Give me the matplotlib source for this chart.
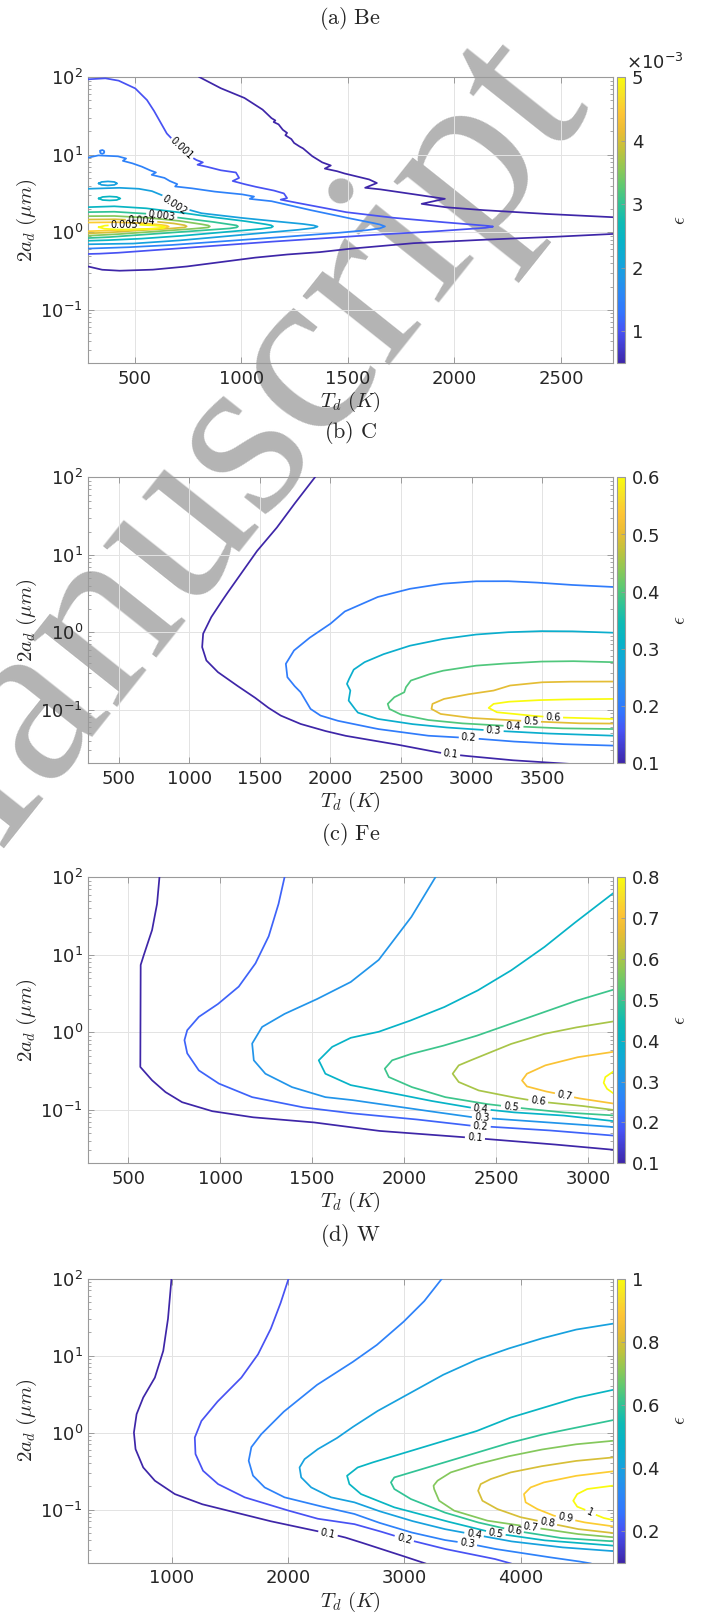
import numpy as np
import matplotlib
matplotlib.use("Agg")
import matplotlib.pyplot as plt
from matplotlib.colors import LinearSegmentedColormap, Normalize
from matplotlib.cm import ScalarMappable

# ---------------------------------------------------------------- data
# every contour is a list of temperatures T (K) and log10 of the grain
# diameter 2a (um)

# (a) Be, levels 0.0005 ... 0.005
be_05_top_T = [803, 900, 1015, 1100, 1142, 1160, 1152, 1175, 1195, 1215, 1207, 1235, 1248, 1270, 1290,
               1333, 1380, 1420, 1392, 1445, 1480, 1540, 1600, 1636, 1581, 1643, 1760, 1877, 1955, 1846,
               1955, 2111, 2400, 2742]
be_05_top_lg = [2.0, 1.86, 1.73, 1.58, 1.47, 1.44, 1.42, 1.39, 1.32, 1.28, 1.25, 1.2, 1.15, 1.11, 1.08,
                0.98, 0.90, 0.86, 0.82, 0.79, 0.76, 0.72, 0.68, 0.634, 0.573, 0.556, 0.51, 0.461, 0.431, 0.366,
                0.323, 0.289, 0.24, 0.194]
be_05_bot_T = [280, 348, 425, 581, 736, 892, 1047, 1203, 1358, 1500, 1799, 2111, 2422, 2742]
be_05_bot_lg = [-0.44, -0.483, -0.496, -0.483, -0.444, -0.388, -0.332, -0.289, -0.259, -0.215, -0.142,
                -0.099, -0.065, -0.022]
be_10_T = [280, 363, 425, 503, 558, 589, 620, 651, 690, 721, 760, 790, 820, 795, 830, 900, 975, 990, 960,
           1000, 1060, 1150, 1200, 1215, 1185, 1240, 1354, 1488, 1700, 1900, 2080, 2150, 2181, 2150, 2080,
           1900, 1700, 1488, 1200, 900, 650, 450, 350, 280]
be_10_lg = [1.97, 1.983, 1.953, 1.853, 1.703, 1.573, 1.422, 1.272, 1.16, 1.078, 0.98, 0.93, 0.90, 0.87,
            0.85, 0.80, 0.77, 0.70, 0.66, 0.63, 0.59, 0.54, 0.50, 0.44, 0.42, 0.39, 0.332, 0.26, 0.19, 0.14,
            0.10, 0.085, 0.073, 0.058, 0.045, 0.01, -0.02, -0.06, -0.11, -0.17, -0.22, -0.26, -0.275, -0.28]
be_15_T = [280, 330, 422, 460, 445, 485, 530, 570, 600, 580, 640, 665, 700, 690, 761, 867, 1000, 1060,
           1040, 1142, 1300, 1488, 1600, 1650, 1674, 1650, 1600, 1488, 1300, 1000, 700, 500, 350, 280]
be_15_lg = [0.96, 0.99, 0.978, 0.95, 0.92, 0.892, 0.85, 0.80, 0.77, 0.74, 0.70, 0.66, 0.62, 0.59, 0.569,
            0.526, 0.49, 0.46, 0.43, 0.40, 0.30, 0.19, 0.13, 0.10, 0.075, 0.05, 0.03, 0.0, -0.04, -0.10,
            -0.16, -0.19, -0.205, -0.21]
be_15_dot_T = [340, 348, 356, 358, 356, 348, 340, 338, 340]
be_15_dot_lg = [1.05, 1.06, 1.05, 1.034, 1.02, 1.01, 1.02, 1.034, 1.05]
be_20_T = [280, 425, 520, 581, 643, 700, 814, 970, 1125, 1281, 1340, 1358, 1340, 1281, 1047, 736, 503, 280]
be_20_lg = [0.56, 0.573, 0.56, 0.53, 0.46, 0.33, 0.245, 0.194, 0.15, 0.11, 0.088, 0.073, 0.055, 0.035,
            -0.022, -0.10, -0.145, -0.155]
be_20_isl_T = [332, 345, 375, 405, 418, 405, 375, 345, 332]
be_20_isl_lg = [0.629, 0.648, 0.655, 0.648, 0.629, 0.61, 0.603, 0.61, 0.629]
be_25_T = [280, 400, 550, 700, 850, 1000, 1100, 1140, 1149, 1140, 1100, 950, 750, 550, 400, 280]
be_25_lg = [0.323, 0.335, 0.31, 0.26, 0.20, 0.15, 0.11, 0.09, 0.075, 0.06, 0.045, 0.01, -0.04, -0.08,
            -0.10, -0.11]
be_25_isl_T = [332, 350, 383, 416, 433, 416, 383, 350, 332]
be_25_isl_lg = [0.435, 0.455, 0.461, 0.455, 0.435, 0.415, 0.41, 0.415, 0.435]
be_30_T = [280, 400, 550, 700, 850, 950, 978, 985, 978, 950, 800, 600, 400, 280]
be_30_lg = [0.259, 0.265, 0.24, 0.19, 0.14, 0.10, 0.088, 0.075, 0.062, 0.05, 0.02, -0.02, -0.06, -0.075]
be_35_T = [280, 400, 550, 700, 800, 845, 853, 845, 800, 650, 450, 280]
be_35_lg = [0.207, 0.21, 0.19, 0.15, 0.11, 0.088, 0.075, 0.062, 0.05, 0.02, -0.02, -0.045]
be_40_T = [280, 400, 550, 680, 735, 744, 735, 680, 550, 400, 280]
be_40_lg = [0.164, 0.168, 0.15, 0.115, 0.09, 0.076, 0.063, 0.05, 0.03, 0.0, -0.015]
be_45_T = [280, 400, 520, 610, 650, 660, 650, 610, 500, 380, 280]
be_45_lg = [0.125, 0.13, 0.12, 0.10, 0.085, 0.073, 0.062, 0.05, 0.035, 0.022, 0.013]
be_50_T = [332, 360, 420, 500, 580, 630, 643, 630, 580, 500, 420, 360, 332]
be_50_lg = [0.065, 0.085, 0.097, 0.099, 0.09, 0.077, 0.065, 0.052, 0.042, 0.035, 0.035, 0.045, 0.065]
be_label_pos = {"0.001": (721, 1.078), "0.002": (690, 0.35), "0.003": (628, 0.226),
                "0.004": (534, 0.152), "0.005": (453, 0.098)}

# (b) C, levels 0.1 ... 0.6
c_10_T = [1890, 1765, 1625, 1484, 1367, 1250, 1156, 1098, 1091, 1121, 1203, 1320, 1461, 1555, 1648, 1789,
          1953, 2102, 2453, 2758, 2852, 2945, 3273, 3730]
c_10_lg = [2.0, 1.707, 1.362, 1.06, 0.76, 0.457, 0.198, -0.017, -0.19, -0.362, -0.513, -0.664, -0.836,
           -0.966, -1.073, -1.181, -1.267, -1.332, -1.44, -1.547, -1.57, -1.59, -1.647, -1.70]
c_20_T = [4000, 3742, 3508, 3273, 3039, 2805, 2570, 2336, 2102, 2000, 1859, 1742, 1684, 1695, 1742, 1789,
          1824, 1859, 1930, 2047, 2164, 2336, 2687, 2980, 3273, 3625, 4000]
c_20_lg = [0.586, 0.608, 0.638, 0.66, 0.66, 0.63, 0.565, 0.457, 0.27, 0.112, -0.06, -0.233, -0.405,
           -0.578, -0.685, -0.772, -0.879, -0.987, -1.073, -1.138, -1.181, -1.246, -1.332, -1.362, -1.405,
           -1.44, -1.46]
c_30_T = [4000, 3742, 3508, 3273, 3039, 2805, 2570, 2383, 2242, 2165, 2137, 2117, 2141, 2129, 2164, 2195,
          2336, 2570, 2805, 3156, 3508, 4000]
c_30_lg = [-0.004, 0.013, 0.017, 0.004, -0.026, -0.082, -0.168, -0.276, -0.384, -0.48, -0.58, -0.664,
           -0.75, -0.879, -0.966, -1.035, -1.116, -1.181, -1.224, -1.267, -1.302, -1.332]
c_40_T = [4000, 3742, 3508, 3273, 3039, 2805, 2711, 2570, 2535, 2523, 2453, 2406, 2418, 2500, 2687, 2922,
          3297, 3625, 4000]
c_40_lg = [-0.384, -0.371, -0.375, -0.397, -0.427, -0.491, -0.534, -0.621, -0.707, -0.772, -0.836, -0.922,
           -0.987, -1.06, -1.129, -1.172, -1.211, -1.237, -1.246]
c_50_T = [4000, 3742, 3508, 3273, 3156, 2992, 2805, 2723, 2716, 2781, 2992, 3200, 3421, 3742, 4000]
c_50_lg = [-0.634, -0.634, -0.642, -0.685, -0.75, -0.793, -0.858, -0.922, -0.987, -1.052, -1.103, -1.125,
           -1.147, -1.172, -1.176]
c_60_T = [4000, 3742, 3508, 3273, 3156, 3121, 3180, 3414, 3578, 3800, 4000]
c_60_lg = [-0.858, -0.862, -0.871, -0.892, -0.922, -0.974, -1.03, -1.073, -1.095, -1.106, -1.116]
c_label_pos = {"0.1": (2852, -1.57), "0.2": (2980, -1.362), "0.3": (3156, -1.267),
               "0.4": (3297, -1.211), "0.5": (3421, -1.147), "0.6": (3578, -1.095)}

# (c) Fe, levels 0.1 ... 0.8
fe_10_T = [670, 658, 630, 594, 568, 566, 630, 703, 793, 957, 1174, 1500, 1700, 1862, 2315, 2768, 3134]
fe_10_lg = [2.0, 1.67, 1.32, 1.065, 0.87, -0.446, -0.618, -0.77, -0.90, -1.016, -1.094, -1.158, -1.22,
            -1.27, -1.35, -1.435, -1.513]
fe_20_T = [1350, 1319, 1264, 1192, 1101, 993, 884, 821, 806, 821, 884, 993, 1174, 1446, 1700, 2043, 2351,
           2768, 3134]
fe_20_lg = [2.0, 1.67, 1.24, 0.89, 0.59, 0.374, 0.2, 0.028, -0.1, -0.27, -0.49, -0.66, -0.835, -0.965,
            -1.04, -1.116, -1.2, -1.26, -1.33]
fe_30_T = [2170, 2043, 1862, 1710, 1536, 1355, 1228, 1174, 1183, 1246, 1391, 1572, 1710, 2043, 2369, 2768,
           3134]
fe_30_lg = [2.0, 1.5, 0.935, 0.65, 0.44, 0.245, 0.07, -0.144, -0.36, -0.533, -0.706, -0.835, -0.87,
            -0.985, -1.093, -1.158, -1.22]
fe_40_T = [3134, 2949, 2768, 2587, 2406, 2224, 2043, 1862, 1710, 1609, 1536, 1572, 1710, 1862, 2134, 2369,
           2587, 2858, 3134]
fe_40_lg = [1.79, 1.454, 1.11, 0.807, 0.548, 0.332, 0.16, 0.008, -0.07, -0.187, -0.36, -0.533, -0.68,
            -0.749, -0.878, -0.973, -1.03, -1.07, -1.143]
fe_50_T = [3134, 2949, 2768, 2587, 2406, 2224, 2043, 1935, 1895, 1917, 2043, 2224, 2442, 2650, 2858, 3134]
fe_50_lg = [0.548, 0.418, 0.267, 0.116, -0.035, -0.165, -0.274, -0.36, -0.468, -0.576, -0.706, -0.835,
            -0.922, -0.98, -1.031, -1.07]
fe_60_T = [3134, 2949, 2768, 2587, 2406, 2297, 2264, 2297, 2406, 2587, 2728, 2949, 3134]
fe_60_lg = [0.14, 0.07, -0.015, -0.144, -0.317, -0.425, -0.533, -0.64, -0.749, -0.835, -0.891, -0.943,
            -0.999]
fe_70_T = [3134, 2949, 2768, 2668, 2641, 2668, 2768, 2873, 2949, 3134]
fe_70_lg = [-0.252, -0.317, -0.425, -0.533, -0.62, -0.697, -0.76, -0.81, -0.85, -0.916]
fe_80_T = [3134, 3094, 3085, 3103, 3134]
fe_80_lg = [-0.51, -0.576, -0.65, -0.727, -0.78]
fe_label_pos = {"0.1": (2384, -1.36), "0.2": (2415, -1.21), "0.3": (2424, -1.10), "0.4": (2415, -0.985),
                "0.5": (2581, -0.96), "0.6": (2728, -0.891), "0.7": (2873, -0.81)}

# (d) W, levels 0.1 ... 1
w_10_T = [1000, 971, 929, 857, 757, 700, 677, 691, 757, 857, 1029, 1257, 1543, 1829, 2229, 2343, 2485,
          2571, 2900, 3180]
w_10_lg = [2.0, 1.49, 1.06, 0.713, 0.454, 0.238, 0.0, -0.216, -0.454, -0.626, -0.8, -0.929, -1.037,
           -1.145, -1.274, -1.31, -1.36, -1.40, -1.56, -1.70]
w_20_T = [2006, 1943, 1857, 1743, 1600, 1400, 1257, 1200, 1206, 1271, 1400, 1629, 1971, 2257, 2571, 2771,
          3000, 3342, 3771, 3914]
w_20_lg = [2.0, 1.706, 1.36, 1.015, 0.713, 0.41, 0.15, -0.065, -0.28, -0.497, -0.67, -0.842, -1.0, -1.12,
           -1.19, -1.274, -1.38, -1.51, -1.64, -1.70]
w_30_T = [3324, 3171, 3000, 2771, 2571, 2257, 1971, 1771, 1686, 1663, 1700, 1800, 1971, 2257, 2571, 2771,
          3056, 3342, 3542, 3771, 4199, 4485, 4600]
w_30_lg = [2.0, 1.706, 1.447, 1.145, 0.93, 0.627, 0.28, -0.022, -0.19, -0.367, -0.56, -0.713, -0.842,
           -0.95, -1.058, -1.166, -1.296, -1.395, -1.44, -1.51, -1.61, -1.67, -1.70]
w_40_T = [4790, 4485, 4199, 3914, 3628, 3342, 3056, 2771, 2571, 2429, 2257, 2143, 2100, 2114, 2200, 2371,
          2571, 2771, 3056, 3342, 3599, 3914, 4342, 4790]
w_40_lg = [1.413, 1.34, 1.23, 1.1, 0.95, 0.756, 0.518, 0.28, 0.086, -0.065, -0.216, -0.346, -0.454,
           -0.583, -0.713, -0.842, -0.907, -1.015, -1.145, -1.253, -1.325, -1.413, -1.49, -1.54]
w_50_T = [4790, 4485, 4199, 3914, 3628, 3342, 3056, 2771, 2599, 2508, 2528, 2628, 2914, 3342, 3785, 4199,
          4790]
w_50_lg = [0.553, 0.454, 0.324, 0.194, 0.022, -0.108, -0.238, -0.367, -0.454, -0.562, -0.67, -0.8, -0.972,
           -1.145, -1.31, -1.40, -1.469]
w_60_T = [4790, 4485, 4199, 3914, 3628, 3342, 3056, 2914, 2885, 2914, 3056, 3342, 3628, 3942, 4342, 4790]
w_60_lg = [0.16, 0.065, -0.022, -0.13, -0.26, -0.39, -0.52, -0.583, -0.648, -0.734, -0.864, -1.037,
           -1.166, -1.274, -1.37, -1.413]
w_70_T = [4790, 4485, 4199, 3914, 3628, 3399, 3285, 3251, 3256, 3299, 3428, 3714, 4085, 4485, 4790]
w_70_lg = [-0.108, -0.151, -0.216, -0.302, -0.41, -0.518, -0.626, -0.691, -0.734, -0.886, -1.015, -1.145,
           -1.228, -1.318, -1.36]
w_80_T = [4790, 4485, 4199, 3914, 3742, 3656, 3634, 3671, 3799, 3999, 4228, 4485, 4790]
w_80_lg = [-0.324, -0.367, -0.432, -0.518, -0.605, -0.67, -0.756, -0.886, -0.994, -1.1, -1.172, -1.253,
           -1.305]
w_90_T = [4790, 4485, 4199, 4085, 4028, 4042, 4142, 4285, 4385, 4542, 4790]
w_90_lg = [-0.505, -0.56, -0.648, -0.713, -0.8, -0.907, -0.994, -1.08, -1.113, -1.166, -1.218]
w_100_T = [4790, 4571, 4485, 4451, 4485, 4571, 4599, 4713, 4790]
w_100_lg = [-0.691, -0.734, -0.8, -0.886, -0.963, -1.015, -1.04, -1.11, -1.136]
w_label_pos = {"0.1": (2343, -1.31), "0.2": (3000, -1.38), "0.3": (3542, -1.44), "0.4": (3599, -1.325),
               "0.5": (3785, -1.31), "0.6": (3942, -1.274), "0.7": (4085, -1.228), "0.8": (4228, -1.172),
               "0.9": (4385, -1.113), "1": (4599, -1.04)}

# ---------------------------------------------------------------- style
parula = LinearSegmentedColormap.from_list("parula", [
    (0.000, (0.2422, 0.1504, 0.6603)), (0.111, (0.2810, 0.3228, 0.9579)),
    (0.175, (0.1986, 0.4578, 0.9974)), (0.238, (0.1707, 0.5300, 0.9679)),
    (0.302, (0.1196, 0.6000, 0.9000)), (0.365, (0.0641, 0.6616, 0.8370)),
    (0.429, (0.0276, 0.7027, 0.7797)), (0.492, (0.0590, 0.7314, 0.7057)),
    (0.556, (0.1910, 0.7650, 0.5850)), (0.619, (0.3692, 0.7883, 0.4451)),
    (0.683, (0.5688, 0.7821, 0.3298)), (0.746, (0.7548, 0.7635, 0.2360)),
    (0.810, (0.9194, 0.7377, 0.2026)), (0.873, (0.9956, 0.7701, 0.2100)),
    (0.937, (0.9680, 0.8800, 0.1600)), (1.000, (0.9763, 0.9831, 0.0538))])

DPI = 100
W_PX, H_PX = 709, 1617
TXT = "#262626"
EDGE = "#9a9a9a"
LBL_FS = 7

fig = plt.figure(figsize=(W_PX / DPI, H_PX / DPI), dpi=DPI, facecolor="white")


def frac_rect(left, top, right, bottom):
    return [left / W_PX, 1 - bottom / H_PX, (right - left) / W_PX, (bottom - top) / H_PX]


def draw_contour(ax, T, lg, color, labels=()):
    xy = ax.transData.transform(np.column_stack([T, 10.0 ** np.asarray(lg, float)]))
    # split every segment into ~1 px steps so the label gaps can be cut cleanly
    pts = [xy[:1]]
    for p, q in zip(xy[:-1], xy[1:]):
        n = max(int(np.ceil(np.hypot(*(q - p)))), 1)
        s = np.arange(1, n + 1)[:, None] / n
        pts.append(p + s * (q - p))
    pts = np.vstack(pts)
    keep = np.ones(len(pts), bool)
    for text, (tl, ll) in labels:
        c = ax.transData.transform((tl, 10.0 ** ll))
        i = int(np.argmin(np.hypot(*(pts - c).T)))
        j0, j1 = max(i - 6, 0), min(i + 6, len(pts) - 1)
        dx, dy = pts[j1] - pts[j0]
        ang = np.degrees(np.arctan2(dy, dx))
        if ang > 90:
            ang -= 180
        elif ang < -90:
            ang += 180
        half = LBL_FS * DPI / 72 * sum(0.318 if ch == "." else 0.636 for ch in text) / 2 + 3
        keep[max(i - int(half), 0):i + int(half) + 1] = False
        x, y = ax.transData.inverted().transform(pts[i])
        ax.text(x, y, text, fontsize=LBL_FS, rotation=ang, rotation_mode="anchor",
                ha="center", va="center", color="black", zorder=4)
    pts[~keep] = np.nan
    data = ax.transData.inverted().transform(pts)
    ax.plot(data[:, 0], data[:, 1], color=color, lw=1.25, zorder=3)


def make_panel(top, bottom, title, xmax, xticks, vmin, vmax, cticks, cfmt):
    ax = fig.add_axes(frac_rect(87.7, top, 612.7, bottom))
    ax.set_facecolor("none")
    ax.set_yscale("log")
    ax.set_xlim(280, xmax)
    ax.set_ylim(0.0205, 100)
    ax.set_xticks(xticks)
    ax.set_yticks([0.1, 1, 10, 100])
    ax.grid(True, which="major", color="#e3e3e3", lw=0.7, zorder=0)
    ax.tick_params(which="both", direction="in", top=True, right=True, colors=EDGE,
                   labelcolor=TXT, labelsize=13)
    ax.tick_params(which="major", length=4, width=0.7)
    ax.tick_params(which="minor", length=2.2, width=0.6)
    ax.tick_params(axis="x", pad=5)
    for s in ax.spines.values():
        s.set_edgecolor(EDGE)
        s.set_linewidth(0.8)
    h = bottom - top
    ax.set_xlabel(r"$T_d\ (K)$", fontsize=15, color=TXT, math_fontfamily="cm")
    ax.xaxis.set_label_coords(0.5, -39 / h)
    ax.xaxis.label.set_va("center")
    ax.set_ylabel(r"$2a_d\ (\mu m)$", fontsize=15, color=TXT, math_fontfamily="cm")
    ax.yaxis.set_label_coords(-(87.7 - 27) / 525, 0.5)
    ax.yaxis.label.set_va("center")
    fig.text(350.2 / W_PX, 1 - title / H_PX, title_text[title], fontsize=16, color=TXT,
             ha="center", va="center", math_fontfamily="cm")

    norm = Normalize(vmin, vmax)
    cax = fig.add_axes(frac_rect(617, top, 625, bottom))
    cb = fig.colorbar(ScalarMappable(norm=norm, cmap=parula), cax=cax)
    cb.set_ticks(cticks)
    cb.set_ticklabels([cfmt(v) for v in cticks])
    cb.ax.tick_params(labelsize=13, direction="in", length=3, width=0.6, colors=EDGE,
                      labelcolor=TXT, pad=5)
    cb.ax.minorticks_off()
    cb.outline.set_edgecolor(EDGE)
    cb.outline.set_linewidth(0.8)
    fig.text(680 / W_PX, 1 - (top + bottom) / 2 / H_PX, r"$\epsilon$", fontsize=14, color=TXT,
             rotation=90, ha="center", va="center", math_fontfamily="cm")
    return ax, norm


title_text = {18: r"$\mathrm{(a)\ Be}$", 433: r"$\mathrm{(b)\ C}$",
              834: r"$\mathrm{(c)\ Fe}$", 1235: r"$\mathrm{(d)\ W}$"}

# ---------------------------------------------------------------- (a) Be
ax, norm = make_panel(77.0, 363.3, 18, 2742, [500, 1000, 1500, 2000, 2500], 0.0005, 0.005,
                      [0.001, 0.002, 0.003, 0.004, 0.005], lambda v: f"{v * 1e3:g}")
fig.text(655 / W_PX, 1 - 63 / H_PX, r"$\times10^{-3}$", fontsize=13, color=TXT, ha="center", va="center")
be_lines = [
    (0.0005, be_05_top_T, be_05_top_lg, None), (0.0005, be_05_bot_T, be_05_bot_lg, None),
    (0.001, be_10_T, be_10_lg, "0.001"), (0.0015, be_15_T, be_15_lg, None),
    (0.0015, be_15_dot_T, be_15_dot_lg, None), (0.002, be_20_T, be_20_lg, "0.002"),
    (0.002, be_20_isl_T, be_20_isl_lg, None), (0.0025, be_25_T, be_25_lg, None),
    (0.0025, be_25_isl_T, be_25_isl_lg, None), (0.003, be_30_T, be_30_lg, "0.003"),
    (0.0035, be_35_T, be_35_lg, None), (0.004, be_40_T, be_40_lg, "0.004"),
    (0.0045, be_45_T, be_45_lg, None), (0.005, be_50_T, be_50_lg, "0.005")]
for lev, T, lg, lab in be_lines:
    labs = [(lab, be_label_pos[lab])] if lab else []
    draw_contour(ax, T, lg, parula(norm(lev)), labs)

# ---------------------------------------------------------------- (b) C
ax, norm = make_panel(477.3, 763.3, 433, 4000, [500, 1000, 1500, 2000, 2500, 3000, 3500], 0.1, 0.6,
                      [0.1, 0.2, 0.3, 0.4, 0.5, 0.6], lambda v: f"{v:g}")
c_lines = [(0.1, c_10_T, c_10_lg), (0.2, c_20_T, c_20_lg), (0.3, c_30_T, c_30_lg),
           (0.4, c_40_T, c_40_lg), (0.5, c_50_T, c_50_lg), (0.6, c_60_T, c_60_lg)]
for lev, T, lg in c_lines:
    lab = f"{lev:g}"
    draw_contour(ax, T, lg, parula(norm(lev)), [(lab, c_label_pos[lab])])

# ---------------------------------------------------------------- (c) Fe
ax, norm = make_panel(877.3, 1163.3, 834, 3134, [500, 1000, 1500, 2000, 2500, 3000], 0.1, 0.8,
                      [0.1, 0.2, 0.3, 0.4, 0.5, 0.6, 0.7, 0.8], lambda v: f"{v:g}")
fe_lines = [(0.1, fe_10_T, fe_10_lg), (0.2, fe_20_T, fe_20_lg), (0.3, fe_30_T, fe_30_lg),
            (0.4, fe_40_T, fe_40_lg), (0.5, fe_50_T, fe_50_lg), (0.6, fe_60_T, fe_60_lg),
            (0.7, fe_70_T, fe_70_lg), (0.8, fe_80_T, fe_80_lg)]
for lev, T, lg in fe_lines:
    lab = f"{lev:g}"
    labs = [(lab, fe_label_pos[lab])] if lab in fe_label_pos else []
    draw_contour(ax, T, lg, parula(norm(lev)), labs)

# ---------------------------------------------------------------- (d) W
ax, norm = make_panel(1278.5, 1562.5, 1235, 4790, [1000, 2000, 3000, 4000], 0.1, 1.0,
                      [0.2, 0.4, 0.6, 0.8, 1.0], lambda v: f"{v:g}")
w_lines = [(0.1, w_10_T, w_10_lg), (0.2, w_20_T, w_20_lg), (0.3, w_30_T, w_30_lg),
           (0.4, w_40_T, w_40_lg), (0.5, w_50_T, w_50_lg), (0.6, w_60_T, w_60_lg),
           (0.7, w_70_T, w_70_lg), (0.8, w_80_T, w_80_lg), (0.9, w_90_T, w_90_lg),
           (1.0, w_100_T, w_100_lg)]
for lev, T, lg in w_lines:
    lab = f"{lev:g}"
    draw_contour(ax, T, lg, parula(norm(lev)), [(lab, w_label_pos[lab])])

# watermark behind the (transparent) axes
fig.text(207 / W_PX, 1 - 493 / H_PX, "Manuscript", fontsize=172, family="Liberation Serif",
         color="#b4b4b4", rotation=51.5, ha="center", va="center", zorder=-1)

fig.savefig("out.png", dpi=DPI, facecolor="white")
